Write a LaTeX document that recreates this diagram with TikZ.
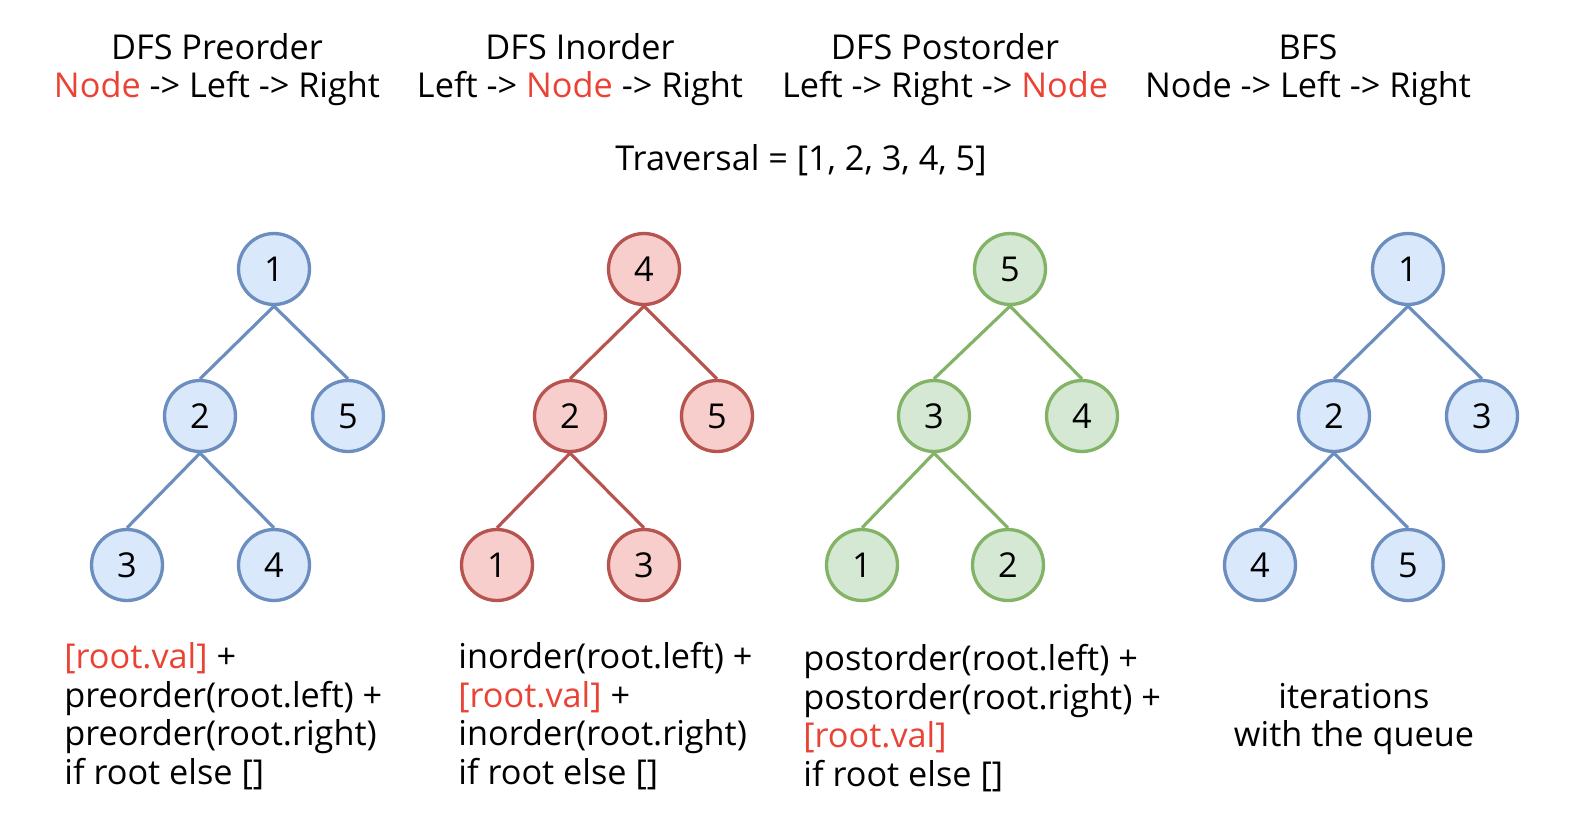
\documentclass[tikz,border=0pt]{standalone}
\usepackage{fontspec}
\setmainfont{Open Sans}
\usepackage{tikz}
\definecolor{hl}{HTML}{EA4335}
\definecolor{bluefill}{HTML}{DAE8FC}
\definecolor{blueline}{HTML}{6C8EBF}
\definecolor{redfill}{HTML}{F8CECC}
\definecolor{redline}{HTML}{B85450}
\definecolor{greenfill}{HTML}{D5E8D4}
\definecolor{greenline}{HTML}{82B366}
\tikzset{vertex/.style = {shape=circle,draw,line width=1.9pt,minimum size=1.42cm,inner sep=0pt,font=\fontsize{19.5}{22}\selectfont}}
\tikzset{link/.style = {line width=1.8pt}}
\tikzset{txt/.style = {inner sep=0pt,font=\fontsize{19.5}{22}\selectfont}}

\begin{document}
\begin{tikzpicture}[x=0.02cm,y=-0.02cm]
    \useasboundingbox (0,0) rectangle (1590,816);

    % headings
    \node[txt, anchor=base] (h1a) at (217,59) {DFS Preorder};
    \node[txt, anchor=base] (h1b) at (217,97) {{\color{hl}Node} -> Left -> Right};
    \node[txt, anchor=base] (h2a) at (580,59) {DFS Inorder};
    \node[txt, anchor=base] (h2b) at (580,97) {Left -> {\color{hl}Node} -> Right};
    \node[txt, anchor=base] (h3a) at (945,59) {DFS Postorder};
    \node[txt, anchor=base] (h3b) at (945,97) {Left -> Right -> {\color{hl}Node}};
    \node[txt, anchor=base] (h4a) at (1308,59) {BFS};
    \node[txt, anchor=base] (h4b) at (1308,97) {Node -> Left -> Right};
    \node[txt, anchor=base] (trav) at (801,170) {Traversal = [1, 2, 3, 4, 5]};

    % preorder tree
    \node[vertex, draw=blueline, fill=bluefill] (p1) at (274,269) {1};
    \node[vertex, draw=blueline, fill=bluefill] (p2) at (200,416) {2};
    \node[vertex, draw=blueline, fill=bluefill] (p5) at (348,416) {5};
    \node[vertex, draw=blueline, fill=bluefill] (p3) at (127,565) {3};
    \node[vertex, draw=blueline, fill=bluefill] (p4) at (274,565) {4};
    \draw[link, blueline] (p1.south) -- (p2.north);
    \draw[link, blueline] (p1.south) -- (p5.north);
    \draw[link, blueline] (p2.south) -- (p3.north);
    \draw[link, blueline] (p2.south) -- (p4.north);

    % inorder tree
    \node[vertex, draw=redline, fill=redfill] (i4) at (644,269) {4};
    \node[vertex, draw=redline, fill=redfill] (i2) at (570,416) {2};
    \node[vertex, draw=redline, fill=redfill] (i5) at (717,416) {5};
    \node[vertex, draw=redline, fill=redfill] (i1) at (497,565) {1};
    \node[vertex, draw=redline, fill=redfill] (i3) at (644,565) {3};
    \draw[link, redline] (i4.south) -- (i2.north);
    \draw[link, redline] (i4.south) -- (i5.north);
    \draw[link, redline] (i2.south) -- (i1.north);
    \draw[link, redline] (i2.south) -- (i3.north);

    % postorder tree
    \node[vertex, draw=greenline, fill=greenfill] (o5) at (1010,269) {5};
    \node[vertex, draw=greenline, fill=greenfill] (o3) at (934,416) {3};
    \node[vertex, draw=greenline, fill=greenfill] (o4) at (1082,416) {4};
    \node[vertex, draw=greenline, fill=greenfill] (o1) at (862,565) {1};
    \node[vertex, draw=greenline, fill=greenfill] (o2) at (1008,565) {2};
    \draw[link, greenline] (o5.south) -- (o3.north);
    \draw[link, greenline] (o5.south) -- (o4.north);
    \draw[link, greenline] (o3.south) -- (o1.north);
    \draw[link, greenline] (o3.south) -- (o2.north);

    % bfs tree
    \node[vertex, draw=blueline, fill=bluefill] (b1) at (1408,269) {1};
    \node[vertex, draw=blueline, fill=bluefill] (b2) at (1334,416) {2};
    \node[vertex, draw=blueline, fill=bluefill] (b3) at (1482,416) {3};
    \node[vertex, draw=blueline, fill=bluefill] (b4) at (1260,565) {4};
    \node[vertex, draw=blueline, fill=bluefill] (b5) at (1408,565) {5};
    \draw[link, blueline] (b1.south) -- (b2.north);
    \draw[link, blueline] (b1.south) -- (b3.north);
    \draw[link, blueline] (b2.south) -- (b4.north);
    \draw[link, blueline] (b2.south) -- (b5.north);

    % code below the trees
    \node[txt, anchor=north west, align=left] (c1) at (64,642)
        {{\color{hl}[root.val]} +\\preorder(root.left) +\\preorder(root.right)\\if root else []};
    \node[txt, anchor=north west, align=left] (c2) at (458,642)
        {inorder(root.left) +\\{\color{hl}[root.val]} +\\inorder(root.right)\\if root else []};
    \node[txt, anchor=north west, align=left] (c3) at (803,644)
        {postorder(root.left) +\\postorder(root.right) +\\{\color{hl}[root.val]}\\if root else []};
    \node[txt, align=center] (c4) at (1354,719) {iterations\\with the queue};
\end{tikzpicture}
\end{document}
